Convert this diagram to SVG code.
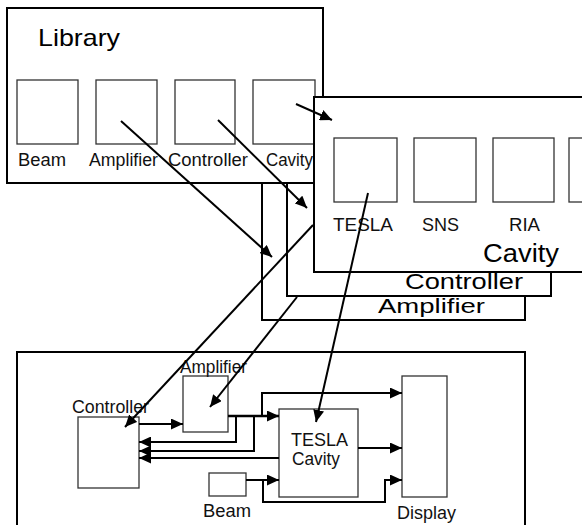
<svg xmlns="http://www.w3.org/2000/svg" width="582" height="525" viewBox="0 0 582 525">
<style>
.frame{fill:#fff;stroke:#000;stroke-width:2}
.sq{fill:#fff;stroke:#333;stroke-width:1.3}
.lbl{font-family:"Liberation Sans",Arial,sans-serif;font-size:17.5px;fill:#111}
.big{font-family:"Liberation Sans",Arial,sans-serif;font-size:24px;fill:#000}
.c{fill:none;stroke:#000;stroke-width:2}
.cb{fill:none;stroke:#000;stroke-width:2.6}
</style>
<defs>
<marker id="ah" markerUnits="userSpaceOnUse" markerWidth="13" markerHeight="11" refX="12" refY="5.5" orient="auto">
<path d="M0,0 L12,5.5 L0,11 z" fill="#000"/>
</marker>
</defs>
<g id="amplifier-lib">
<rect class="frame" x="262" y="150" width="263" height="170"/>
<text class="big" x="378" y="313" style="font-size:21px" textLength="107" lengthAdjust="spacingAndGlyphs">Amplifier</text>
</g>
<g id="controller-lib">
<rect class="frame" x="287" y="140" width="264" height="156"/>
<text class="big" x="405" y="289" style="font-size:22px" textLength="118" lengthAdjust="spacingAndGlyphs">Controller</text>
</g>
<g id="library">
<rect class="frame" x="7" y="8" width="316" height="175"/>
<text class="big" x="38" y="46" textLength="82" lengthAdjust="spacingAndGlyphs">Library</text>
<rect class="sq" x="17" y="80" width="61" height="64"/>
<rect class="sq" x="96" y="80" width="61" height="64"/>
<rect class="sq" x="175" y="80" width="60" height="64"/>
<rect class="sq" x="253" y="80" width="62" height="64"/>
<text class="lbl" x="18" y="166" textLength="48" lengthAdjust="spacingAndGlyphs">Beam</text>
<text class="lbl" x="89" y="166" textLength="69" lengthAdjust="spacingAndGlyphs">Amplifier</text>
<text class="lbl" x="168" y="166" textLength="80" lengthAdjust="spacingAndGlyphs">Controller</text>
<text class="lbl" x="266" y="166" textLength="47" lengthAdjust="spacingAndGlyphs">Cavity</text>
</g>
<g id="cavity-lib">
<rect class="frame" x="314" y="97" width="300" height="175"/>
<rect class="sq" x="334" y="138" width="63" height="64"/>
<rect class="sq" x="414" y="138" width="62" height="64"/>
<rect class="sq" x="493" y="138" width="61" height="64"/>
<rect class="sq" x="569" y="138" width="61" height="64"/>
<text class="lbl" x="333" y="231" textLength="60" lengthAdjust="spacingAndGlyphs">TESLA</text>
<text class="lbl" x="422" y="231" textLength="37" lengthAdjust="spacingAndGlyphs">SNS</text>
<text class="lbl" x="509" y="231" textLength="31" lengthAdjust="spacingAndGlyphs">RIA</text>
<text class="big" x="483" y="262" style="font-size:25px" textLength="76" lengthAdjust="spacingAndGlyphs">Cavity</text>
</g>
<g id="simulation">
<path class="c" d="M17,540 V352 H525 V540"/>
</g>
<g id="controller">
<rect class="sq" x="78" y="417" width="61" height="71"/>
<text class="lbl" x="72" y="413" textLength="77" lengthAdjust="spacingAndGlyphs">Controller</text>
</g>
<g id="amplifier">
<rect class="sq" x="183" y="376" width="45" height="56"/>
<text class="lbl" x="180" y="373" textLength="67" lengthAdjust="spacingAndGlyphs">Amplifier</text>
</g>
<g id="beam">
<rect class="sq" x="209" y="473" width="37" height="23"/>
<text class="lbl" x="203" y="517" textLength="48" lengthAdjust="spacingAndGlyphs">Beam</text>
</g>
<g id="tesla-cavity">
<rect class="sq" x="279" y="409" width="79" height="88"/>
<text class="lbl" x="291" y="446" textLength="57" lengthAdjust="spacingAndGlyphs">TESLA</text>
<text class="lbl" x="292" y="465" textLength="48" lengthAdjust="spacingAndGlyphs">Cavity</text>
</g>
<g id="display">
<rect class="sq" x="402" y="376" width="45" height="121"/>
<text class="lbl" x="397" y="519" textLength="59" lengthAdjust="spacingAndGlyphs">Display</text>
</g>
<g id="connectors">
<line class="c" x1="296" y1="104" x2="332" y2="120" marker-end="url(#ah)"/>
<line class="c" x1="121" y1="121" x2="272" y2="257" marker-end="url(#ah)"/>
<line class="c" x1="218" y1="120" x2="307" y2="208" marker-end="url(#ah)"/>
<line class="c" x1="368" y1="193" x2="316" y2="422" marker-end="url(#ah)"/>
<line class="c" x1="313" y1="225" x2="125" y2="427" marker-end="url(#ah)"/>
<line class="c" x1="297" y1="297" x2="210" y2="407" marker-end="url(#ah)"/>
<line class="c" x1="139" y1="424" x2="183" y2="424" marker-end="url(#ah)"/>
<line class="cb" x1="228" y1="416" x2="279" y2="416" marker-end="url(#ah)"/>
<path class="c" d="M236,416 V442 H139" marker-end="url(#ah)"/>
<path class="c" d="M254,416 V451 H139" marker-end="url(#ah)"/>
<path class="c" d="M262,416 V393 H402" marker-end="url(#ah)"/>
<line class="c" x1="279" y1="458" x2="139" y2="458" marker-end="url(#ah)"/>
<line class="c" x1="358" y1="448" x2="402" y2="448" marker-end="url(#ah)"/>
<line class="c" x1="246" y1="480" x2="279" y2="480" marker-end="url(#ah)"/>
<path class="c" d="M263,480 V502 H385 V480 H402" marker-end="url(#ah)"/>
</g>
</svg>
